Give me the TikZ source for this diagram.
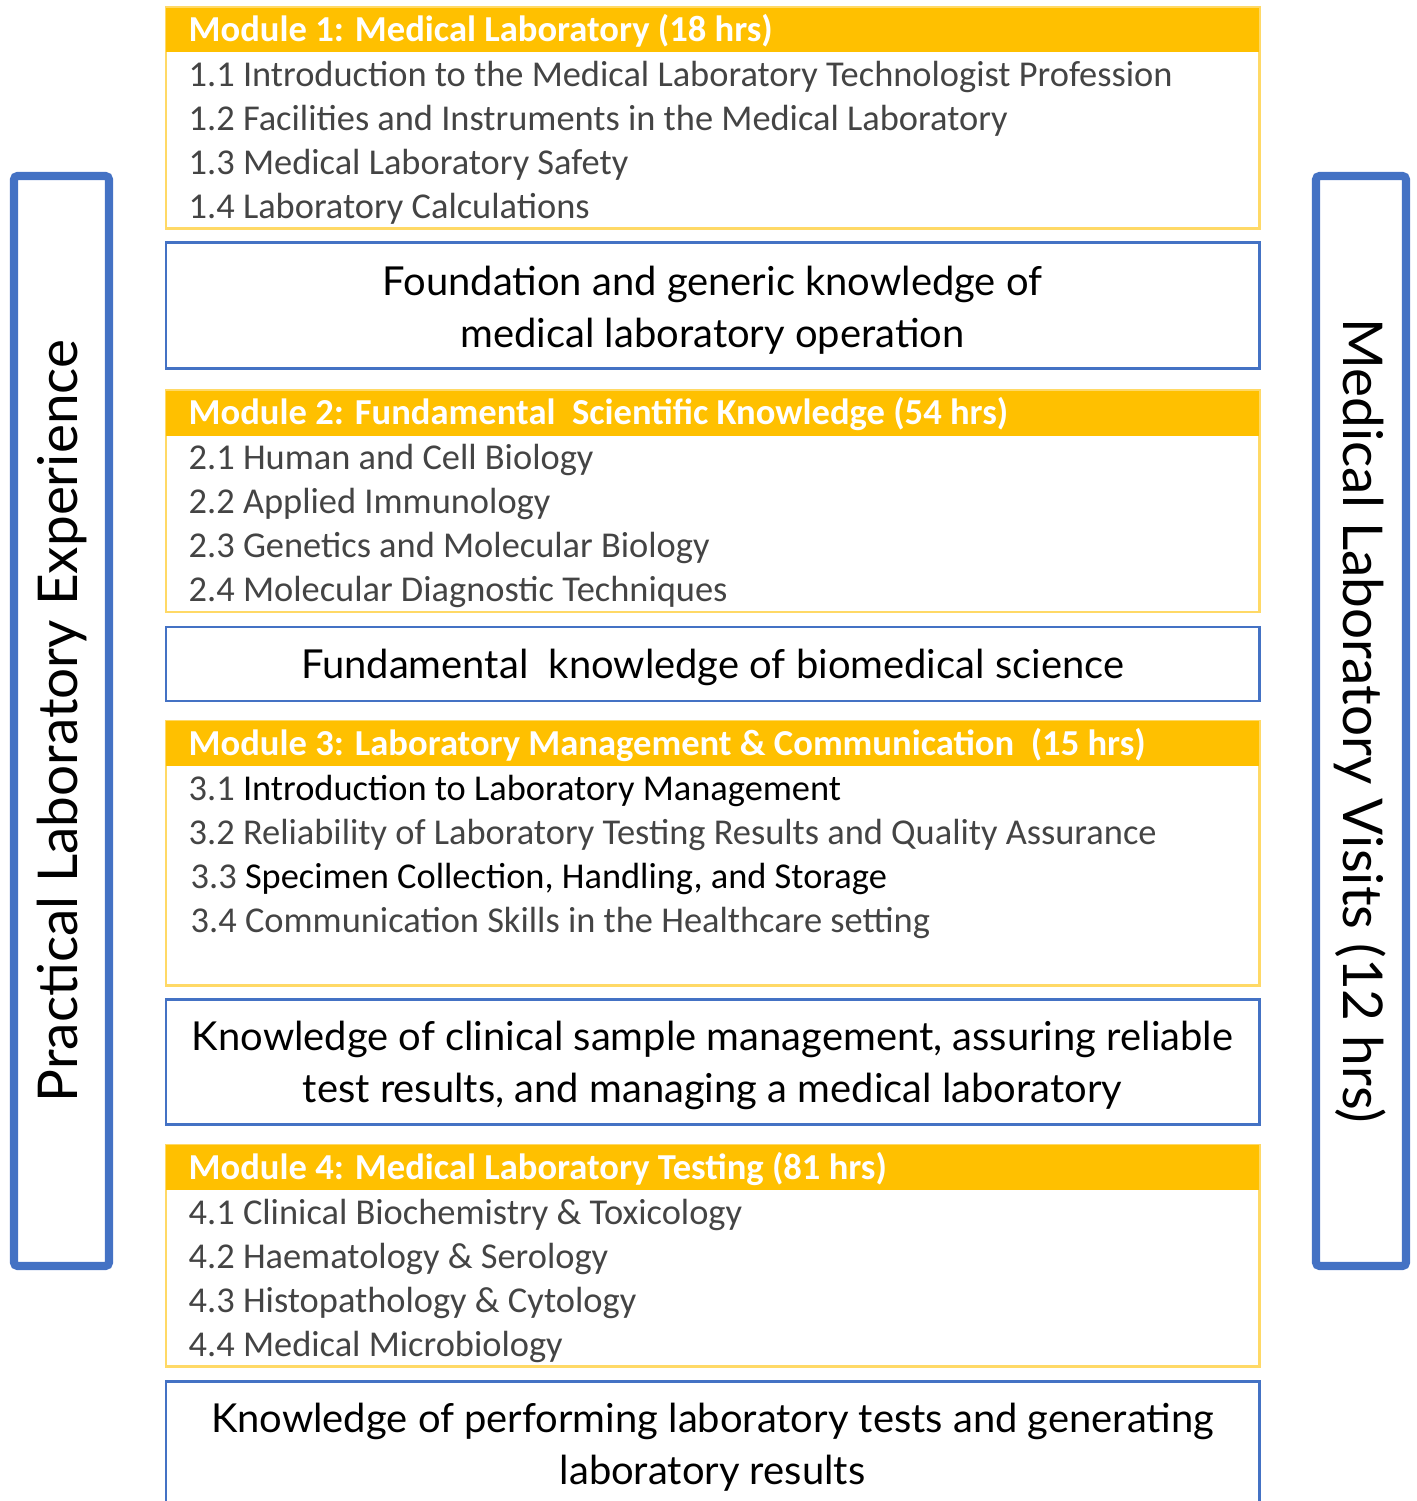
\documentclass[tikz,border=0pt]{standalone}
\usepackage{fontspec}
\setmainfont{Carlito}
\newfontfamily\outfont{Lato}
\usetikzlibrary{positioning}

\definecolor{modorange}{HTML}{FFC000}
\definecolor{modline}{HTML}{FFD966}
\definecolor{outblue}{HTML}{4472C4}
\definecolor{itemgray}{HTML}{444444}

\tikzset{
  modbox/.style={draw=modline, line width=0.85pt},
  modhead/.style={fill=modorange},
  headtext/.style={anchor=base west, inner sep=0pt, text=white, font=\fontsize{10.4pt}{12pt}\selectfont\bfseries},
  item/.style={anchor=base west, inner sep=0pt, text=itemgray, font=\fontsize{10.35pt}{12pt}\selectfont},
  outbox/.style={draw=outblue, line width=0.85pt},
  outtext/.style={align=center, inner sep=0pt, font=\outfont\fontsize{11.35pt}{14.8pt}\selectfont},
  sidebar/.style={draw=outblue, line width=2.3pt, rounded corners=1pt},
  sidetext/.style={inner sep=0pt, font=\outfont\fontsize{15.6pt}{18pt}\selectfont}
}

\begin{document}
\begin{tikzpicture}[x=0.01cm,y=-0.01cm]
\useasboundingbox (0,0) rectangle (1416,1501);
\clip (0,0) rectangle (1416,1501);

\draw[sidebar] (14,176) rectangle (109,1266);
\draw[sidebar] (1316,176) rectangle (1406,1266);
\node[sidetext, rotate=90] (practical) at (62,721) {Practical Laboratory Experience};
\node[sidetext, rotate=-90] (visits) at (1360,721) {Medical Laboratory Visits (12 hrs)};

% module 1
\draw[modbox] (166,8) rectangle (1259,229);
\fill[modhead] (166,8) rectangle (1259,52);
\node[headtext] (m1) at (188,42) {Module 1: Medical Laboratory (18 hrs)};
\node[item] (m11) at (188,87) {1.1 Introduction to the Medical Laboratory Technologist Profession};
\node[item] (m12) at (188,131) {1.2 Facilities and Instruments in the Medical Laboratory};
\node[item] (m13) at (188,175) {1.3 Medical Laboratory Safety};
\node[item] (m14) at (188,219) {1.4 Laboratory Calculations};
\draw[outbox] (166,243) rectangle (1259,369);
\node[outtext] (o1) at (712.5,310.5) {Foundation and generic knowledge of\\medical laboratory operation};

% module 2
\draw[modbox] (166,391) rectangle (1259,612);
\fill[modhead] (166,391) rectangle (1259,436);
\node[headtext] (m2) at (188,425) {Module 2: Fundamental\ \ Scientific Knowledge (54 hrs)};
\node[item] (m21) at (188,470) {2.1 Human and Cell Biology};
\node[item] (m22) at (188,514) {2.2 Applied Immunology};
\node[item] (m23) at (188,558) {2.3 Genetics and Molecular Biology};
\node[item] (m24) at (188,602) {2.4 Molecular Diagnostic Techniques};
\draw[outbox] (166,627) rectangle (1259,701);
\node[outtext] (o2) at (712.5,667) {Fundamental\ \ knowledge of biomedical science};

% module 3
\draw[modbox] (166,721) rectangle (1259,985);
\fill[modhead] (166,721) rectangle (1259,766);
\node[headtext] (m3) at (188,755) {Module 3: Laboratory Management \& Communication\ \ (15 hrs)};
\node[item] (m31) at (188,800) {3.1 \textcolor{black}{Introduction to Laboratory Management}};
\node[item] (m32) at (188,844) {3.2 Reliability of Laboratory Testing Results and Quality Assurance};
\node[item] (m33) at (190,888) {3.3 \textcolor{black}{Specimen Collection, Handling, and Storage}};
\node[item] (m34) at (190,932) {3.4 Communication Skills in the Healthcare setting};
\draw[outbox] (166,999) rectangle (1259,1124);
\node[outtext] (o3) at (712.5,1065) {Knowledge of clinical sample management, assuring reliable\\test results, and managing a medical laboratory};

% module 4
\draw[modbox] (166,1145) rectangle (1259,1366);
\fill[modhead] (166,1145) rectangle (1259,1190);
\node[headtext] (m4) at (188,1179) {Module 4: Medical Laboratory Testing (81 hrs)};
\node[item] (m41) at (188,1224) {4.1 Clinical Biochemistry \& Toxicology};
\node[item] (m42) at (188,1268) {4.2 Haematology \& Serology};
\node[item] (m43) at (188,1312) {4.3 Histopathology \& Cytology};
\node[item] (m44) at (188,1356) {4.4 Medical Microbiology};
\draw[outbox] (166,1381) rectangle (1259,1530);
\node[outtext] (o4) at (712.5,1447) {Knowledge of performing laboratory tests and generating\\laboratory results};

\end{tikzpicture}
\end{document}
